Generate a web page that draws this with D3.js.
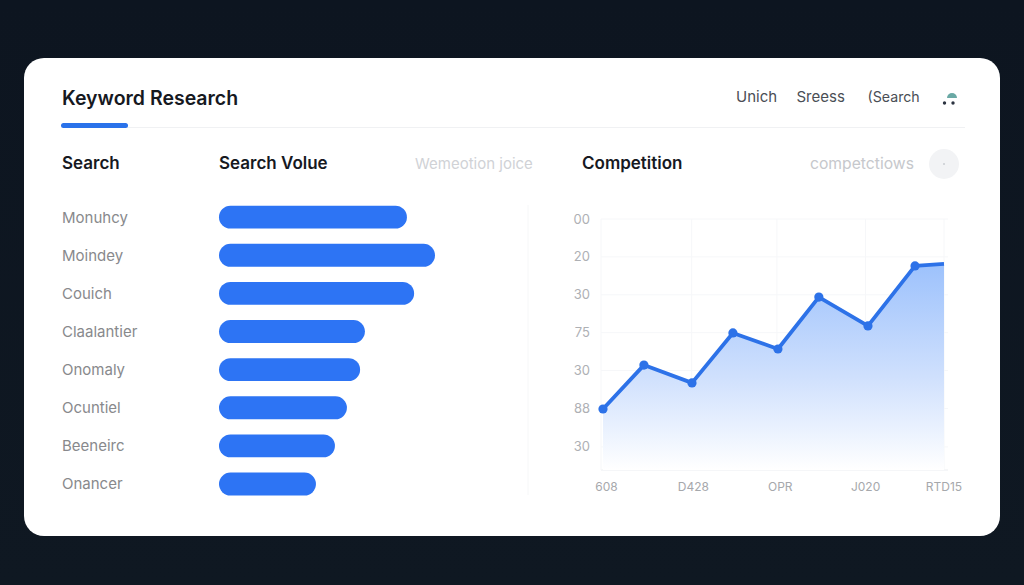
<!DOCTYPE html>
<html>
<head>
<meta charset="utf-8">
<script src="https://cdn.jsdelivr.net/npm/d3@7"></script>
<style>
html,body{margin:0;padding:0;background:#0e1621;overflow:hidden}
svg{display:block}
text{font-family:Inter,"Noto Sans",sans-serif}
</style>
</head>
<body>
<svg id="chart" width="1024" height="585"></svg>
<script>
const keywords = ["Monuhcy","Moindey","Couich","Claalantier","Onomaly","Ocuntiel","Beeneirc","Onancer"];
const searchVolume = [78.3,90,81.3,60.8,58.8,53.3,48.3,40.4];
const navItems = ["Unich","Sreess","(Search"];
const lineX = [0,12,26.1,38.1,51.3,63.3,77.7,91.5,100];
const lineY = [24.3,41.8,34.7,54.6,48.2,68.9,57.4,81.3,82.1];
const yTickValues = [100,84.9,69.8,54.7,39.6,24.5,9.2];
const yTickLabels = ["00","20","30","75","30","88","30"];
const xGridValues = [0,26,51,77,100];
const xTickValues = [1,26.5,52,77,100];
const xTickLabels = ["608","D428","OPR","J020","RTD15"];

const svg = d3.select("#chart");
const defs = svg.append("defs");
const bgGrad = defs.append("linearGradient").attr("id","bg").attr("x1",0).attr("x2",0).attr("y1",0).attr("y2",1);
bgGrad.append("stop").attr("offset",0).attr("stop-color","#0d1520");
bgGrad.append("stop").attr("offset",1).attr("stop-color","#0f1822");
const areaGrad = defs.append("linearGradient").attr("id","areaFill").attr("gradientUnits","userSpaceOnUse")
  .attr("x1",0).attr("x2",0).attr("y1",262).attr("y2",470);
areaGrad.append("stop").attr("offset",0).attr("stop-color","#9cc1fc");
areaGrad.append("stop").attr("offset",0.55).attr("stop-color","#cfe0fd");
areaGrad.append("stop").attr("offset",1).attr("stop-color","#ffffff");

svg.append("rect").attr("width",1024).attr("height",585).attr("fill","url(#bg)");
svg.append("rect").attr("x",24).attr("y",58).attr("width",976).attr("height",478).attr("rx",20).attr("fill","#ffffff");

function label(x,y,t,size,weight,fill,anchor){
  return svg.append("text").attr("x",x).attr("y",y).attr("font-size",size).attr("font-weight",weight)
    .attr("fill",fill).attr("text-anchor",anchor||"start").text(t);
}

// header
label(62,105,"Keyword Research",19.5,600,"#16191f");
svg.append("line").attr("x1",62).attr("x2",965).attr("y1",127.5).attr("y2",127.5).attr("stroke","#f0f1f3").attr("stroke-width",1);
svg.append("rect").attr("x",61).attr("y",123).attr("width",67).attr("height",5).attr("rx",2.5).attr("fill","#2a72ea");
const navX = [736,796.5,867.5];
const navSize = [15,15,14.2];
navItems.forEach((t,i)=>label(navX[i],102,t,navSize[i],400,"#4a4e55"));
svg.append("path").attr("d",d3.arc()({innerRadius:0,outerRadius:5,startAngle:-Math.PI/2,endAngle:Math.PI/2}))
  .attr("transform","translate(952,98)").attr("fill","#6aa9a5");
[[944.5,103,1.7],[953,103,1.7]].forEach(d=>svg.append("circle").attr("cx",d[0]).attr("cy",d[1]).attr("r",d[2]).attr("fill","#2b3340"));

// column heads
label(62,169,"Search",17,600,"#16191f");
label(219,169,"Search Volue",17,600,"#16191f");
label(415,169,"Wemeotion joice",15,400,"#d0d2d6");
label(582,169,"Competition",17,600,"#16191f");
label(810,169,"competctiows",15.7,400,"#c6c8cc");
svg.append("circle").attr("cx",944).attr("cy",164).attr("r",15).attr("fill","#f2f3f5");
svg.append("circle").attr("cx",944).attr("cy",164).attr("r",1).attr("fill","#c9ccd1");

// divider
svg.append("line").attr("x1",528).attr("x2",528).attr("y1",205).attr("y2",495).attr("stroke","#f6f7f8");

// bars
const band = d3.scaleBand().domain(keywords).range([198.5,503.5]).paddingInner(0.4).paddingOuter(0.2);
const vol = d3.scaleLinear().domain([0,100]).range([0,240]);
svg.append("g").selectAll("rect").data(keywords).join("rect")
  .attr("x",219).attr("y",k=>band(k)-0.4).attr("width",(k,i)=>vol(searchVolume[i])).attr("height",band.bandwidth())
  .attr("rx",band.bandwidth()/2).attr("fill","#2d74f4");
svg.append("g").selectAll("text").data(keywords).join("text")
  .attr("x",62).attr("y",k=>band(k)+band.bandwidth()/2+5).attr("font-size",15).attr("fill","#88898c").text(k=>k);

// line chart
const x = d3.scaleLinear().domain([0,100]).range([603,944]);
const y = d3.scaleLinear().domain([0,100]).range([470,219]);
const gridG = svg.append("g");
gridG.selectAll("line.h").data([...yTickValues,0]).join("line").attr("class","h")
  .attr("x1",601).attr("x2",948).attr("y1",d=>y(d)).attr("y2",d=>y(d))
  .attr("stroke",d=>d===0?"#eceef1":"#f6f7f9");
gridG.selectAll("line.v").data(xGridValues).join("line").attr("class","v")
  .attr("x1",d=>x(d)-(d===0?2:0)).attr("x2",d=>x(d)-(d===0?2:0)).attr("y1",219).attr("y2",470)
  .attr("stroke","#f6f7f9");

const pts = lineX.map((v,i)=>[v,lineY[i]]);
svg.append("path").datum(pts)
  .attr("d",d3.area().x(d=>x(d[0])).y0(y(0)).y1(d=>y(d[1])))
  .attr("fill","url(#areaFill)");
svg.append("path").datum(pts)
  .attr("d",d3.line().x(d=>x(d[0])).y(d=>y(d[1])))
  .attr("fill","none").attr("stroke","#2d72e8").attr("stroke-width",3.8).attr("stroke-linejoin","round");
svg.append("g").selectAll("circle").data(pts.slice(0,-1)).join("circle")
  .attr("cx",d=>x(d[0])).attr("cy",d=>y(d[1])).attr("r",4.6).attr("fill","#2d72e8");

svg.append("g").selectAll("text").data(yTickValues).join("text")
  .attr("x",590).attr("y",d=>y(d)+4.5).attr("text-anchor","end").attr("font-size",13).attr("fill","#aeb0b4")
  .text((d,i)=>yTickLabels[i]);
svg.append("g").selectAll("text").data(xTickValues).join("text")
  .attr("x",d=>x(d)).attr("y",491).attr("text-anchor","middle").attr("font-size",12).attr("fill","#a6a8ac")
  .text((d,i)=>xTickLabels[i]);
</script>
</body>
</html>
